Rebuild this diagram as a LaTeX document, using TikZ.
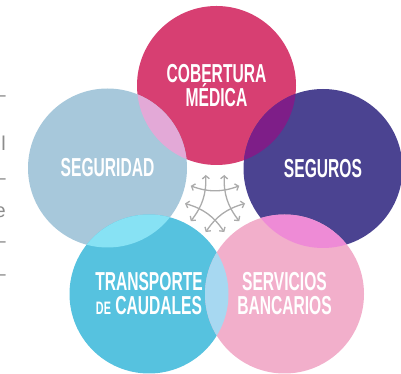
\documentclass[tikz,border=0pt]{standalone}
\usepackage{fontspec}
\setmainfont{Liberation Sans}
\newfontfamily\bebas[FakeStretch=0.6]{Liberation Sans}
\usetikzlibrary{arrows.meta,calc}
\definecolor{cTop}{RGB}{215,63,114}
\definecolor{cLeft}{RGB}{167,200,219}
\definecolor{cRight}{RGB}{75,67,145}
\definecolor{cBL}{RGB}{86,194,223}
\definecolor{cBR}{RGB}{242,175,203}
\definecolor{lTL}{RGB}{227,169,215}
\definecolor{lTR}{RGB}{126,30,136}
\definecolor{lLB}{RGB}{135,226,244}
\definecolor{lRB}{RGB}{238,139,214}
\definecolor{lBB}{RGB}{167,216,241}
\tikzset{disc/.style={circle,minimum size=159pt,inner sep=0pt,text=white,align=center,
  font=\bebas\bfseries\fontsize{26}{24}\selectfont},
 arr/.style={{Straight Barb[length=3pt,width=7pt]}-{Straight Barb[length=3pt,width=7pt]},
  draw=black!33,line width=1.3pt},
 frag/.style={anchor=east,inner sep=0pt,text=black!45,font=\fontsize{20}{20}\selectfont}}
\begin{document}
\begin{tikzpicture}[x=1pt,y=1pt]
\useasboundingbox (0,0) rectangle (401,374);
\node[disc,fill=cTop](top) at(216.5,288.5){COBERTURA\\MÉDICA};
\node[disc,fill=cLeft](left) at(107.5,206){SEGURIDAD};
\node[disc,fill=cRight](right) at(323,205.5){SEGUROS};
\node[disc,fill=cBL](bl) at(149,80){TRANSPORTE\\{\fontsize{18}{18}\selectfont DE} CAUDALES};
\node[disc,fill=cBR](br) at(284.5,80){SERVICIOS\\BANCARIOS};
% overlaps
\foreach \p/\q/\c in {top/left/lTL,top/right/lTR,left/bl/lLB,right/br/lRB,bl/br/lBB}{
 \begin{scope}\clip(\p.center) circle(79.5);\fill[\c](\q.center) circle(79.5);\end{scope}}
% star of arrows
\coordinate (hub) at (215,170.5);
\foreach \i in {0,...,4}{
 \coordinate (s\i) at ($(hub)+({108+72*\i}:30)$);
 \coordinate (e\i) at ($(hub)+({216+72*\i}:30)$);
 \draw[arr](s\i) to[bend left=20](e\i);}
% cut text on the left
\foreach \y/\t in {275/--,231/l,192/--,162/e,129/--,96/--}
 \node[frag](f\y) at(6,\y){\t};
\end{tikzpicture}
\end{document}
